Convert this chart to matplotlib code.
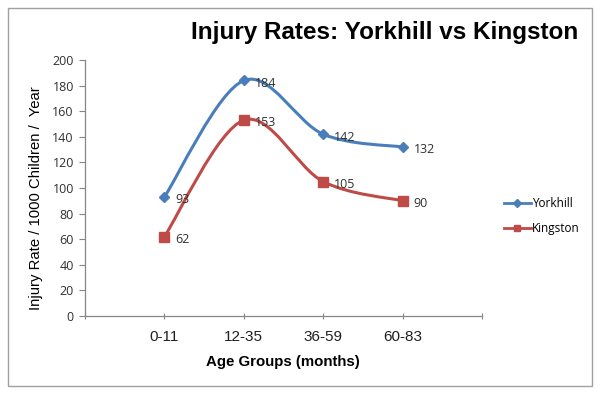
import matplotlib
matplotlib.use("Agg")
import matplotlib.pyplot as plt
from matplotlib.path import Path
from matplotlib.patches import PathPatch, Rectangle
from matplotlib.lines import Line2D
import numpy as np

categories = ["0-11", "12-35", "36-59", "60-83"]
yorkhill = [93, 184, 142, 132]
kingston = [62, 153, 105, 90]
series_names = ["Yorkhill", "Kingston"]

BLUE = "#4A7EBB"
RED = "#BE4B48"
AX_GRAY = "#868686"

fig = plt.figure(figsize=(6.0, 3.96), dpi=100)
ax = fig.add_axes([85/600, 1-316/396, (482-85)/600, (316-60)/396])

# outer border
fig.patches.append(Rectangle((8/600, 10/396), 584/600, 378/396, transform=fig.transFigure,
                             fill=False, edgecolor="#A0A0A0", linewidth=1.0))

x = np.arange(1, len(categories) + 1)


def smooth_path(xs, ys):
    pts = np.column_stack([xs, ys]).astype(float)
    n = len(pts)
    verts = [pts[0]]
    codes = [Path.MOVETO]
    for i in range(n - 1):
        p0 = pts[i - 1] if i > 0 else pts[i]
        p1 = pts[i]
        p2 = pts[i + 1]
        p3 = pts[i + 2] if i + 2 < n else pts[i + 1]
        c1 = p1 + (p2 - p0) / 6.0
        c2 = p2 - (p3 - p1) / 6.0
        verts += [c1, c2, p2]
        codes += [Path.CURVE4] * 3
    return Path(verts, codes)


for vals, color, marker, ms in [(yorkhill, BLUE, "D", 5), (kingston, RED, "s", 7)]:
    ax.add_patch(PathPatch(smooth_path(x, vals), facecolor="none", edgecolor=color,
                           linewidth=2.2, zorder=2))
    ax.plot(x, vals, linestyle="none", marker=marker, markersize=ms, color=color,
            markeredgecolor=color, zorder=3)
    for xi, v in zip(x, vals):
        ax.annotate(str(v), (xi, v), xytext=(8, -2), textcoords="offset points",
                    ha="left", va="center", fontsize=9, color="#303030",
                    family="Open Sans")

ax.set_xlim(0, 5)
ax.set_ylim(0, 200)
ax.set_yticks(np.arange(0, 201, 20))
ax.set_yticklabels([str(v) for v in range(0, 201, 20)], family="Open Sans", fontsize=9,
                   color="#303030")
ax.set_xticks(np.arange(0, 6))
ax.set_xticklabels([""] + categories + [""], family="Liberation Sans", fontsize=11,
                   color="#202020")
ax.tick_params(axis="x", length=4, color=AX_GRAY, pad=8, direction="inout")
ax.tick_params(axis="y", length=4, color=AX_GRAY, pad=4)
for s in ["top", "right"]:
    ax.spines[s].set_visible(False)
for s in ["left", "bottom"]:
    ax.spines[s].set_color(AX_GRAY)
    ax.spines[s].set_linewidth(0.9)

fig.text(283/600, 1-362/396, "Age Groups (months)", ha="center", va="center",
         family="Liberation Sans", fontweight="bold", fontsize=10.8)
fig.text(36/600, 1-198/396, "Injury Rate / 1000 Children /  Year", rotation=90,
         ha="center", va="center", family="Liberation Sans", fontsize=10.7)

fig.text(385/600, 1-33/396, "Injury Rates: Yorkhill vs Kingston", ha="center", va="center",
         family="Liberation Sans", fontweight="bold", fontsize=17.5)

handles = [Line2D([], [], color=BLUE, marker="D", markersize=4, linewidth=2),
           Line2D([], [], color=RED, marker="s", markersize=5, linewidth=2)]
fig.legend(handles, series_names, loc="center left", bbox_to_anchor=(493/600, 1-216/396),
           frameon=False, prop={"family": "Open Sans", "size": 8.5}, handlelength=2.3,
           handletextpad=0.1, labelspacing=1.0)

fig.savefig("out.png", dpi=100)
